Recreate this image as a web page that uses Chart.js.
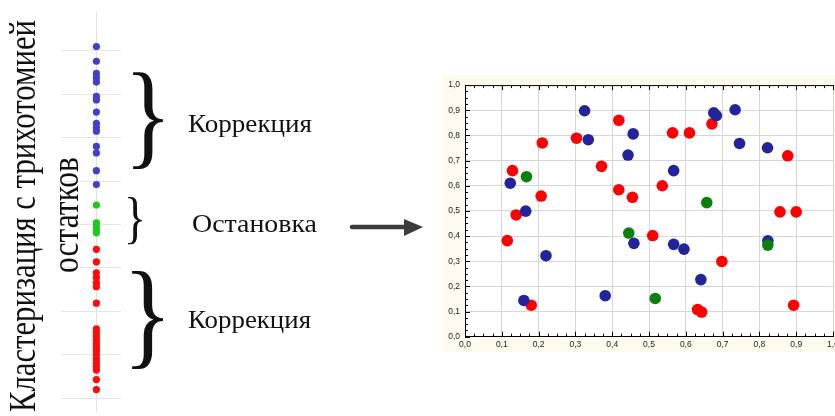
<!DOCTYPE html>
<html>
<head>
<meta charset="utf-8">
<script src="https://cdn.jsdelivr.net/npm/chart.js@4.4.1/dist/chart.umd.min.js"></script>
<style>
html, body { margin: 0; padding: 0; width: 835px; height: 416px; overflow: hidden; background: #fff; }
#stripWrap { position: absolute; left: 57px; top: 8px; width: 68px; height: 408px; }
#scatterWrap { position: absolute; left: 443px; top: 75px; width: 400px; height: 277px; background: #fffaf0; }
#notes { position: absolute; left: 0; top: 0; }
#notes text { font-family: 'Liberation Serif', 'DejaVu Serif', serif; fill: #111; }
</style>
</head>
<body>
<div id="stripWrap"><canvas id="strip"></canvas></div>
<div id="scatterWrap"><canvas id="scatter"></canvas></div>
<svg id="notes" width="835" height="416">
  <text transform="translate(35,216) rotate(-90)" text-anchor="middle" font-size="38" textLength="392" lengthAdjust="spacingAndGlyphs">Кластеризация с трихотомией</text>
  <text transform="translate(78,215) rotate(-90)" text-anchor="middle" font-size="38" textLength="116" lengthAdjust="spacingAndGlyphs">остатков</text>
  <text x="188" y="132" font-size="26" textLength="124" lengthAdjust="spacingAndGlyphs">Коррекция</text>
  <text x="192" y="232" font-size="26" textLength="125" lengthAdjust="spacingAndGlyphs">Остановка</text>
  <text x="188" y="328" font-size="26" textLength="123" lengthAdjust="spacingAndGlyphs">Коррекция</text>
  <g id="braces"></g>
  <line x1="352" y1="227" x2="408" y2="227" stroke="#3c3c3c" stroke-width="4.5" stroke-linecap="round"/>
  <polygon points="404,219 423,227 404,236" fill="#3c3c3c"/>
</svg>
<script>
// левая полоса: значения остатков по кластерам
const stripBlue = [8.10, 7.76, 7.48, 7.38, 7.28, 6.95, 6.87, 6.59, 6.33, 6.24, 6.15, 5.80, 5.65, 5.24, 4.92];
const stripGreen = [4.45, 4.04, 3.96, 3.88, 3.81];
const stripRed = [3.43, 3.14, 2.89, 2.78, 2.66, 2.57, 2.19, 1.60, 1.52, 1.43, 1.34, 1.26, 1.17, 1.09, 1.00, 0.91, 0.82, 0.74, 0.65, 0.43, 0.20];

// правая диаграмма рассеяния
const blueX = [0.325, 0.335, 0.457, 0.443, 0.567, 0.676, 0.683, 0.734, 0.746, 0.822, 0.123, 0.165, 0.220, 0.160, 0.381, 0.459, 0.567, 0.595, 0.641, 0.823];
const blueY = [0.898, 0.783, 0.806, 0.722, 0.660, 0.890, 0.879, 0.902, 0.768, 0.751, 0.610, 0.499, 0.322, 0.144, 0.163, 0.371, 0.367, 0.348, 0.227, 0.381];
const greenX = [0.167, 0.445, 0.657, 0.517, 0.823];
const greenY = [0.636, 0.412, 0.533, 0.152, 0.364];
const redX = [0.129, 0.210, 0.207, 0.139, 0.115, 0.180, 0.303, 0.371, 0.418, 0.418, 0.455, 0.536, 0.510, 0.564, 0.610, 0.671, 0.698, 0.877, 0.856, 0.900, 0.893, 0.632, 0.643];
const redY = [0.660, 0.770, 0.559, 0.484, 0.382, 0.125, 0.789, 0.677, 0.860, 0.584, 0.554, 0.600, 0.402, 0.810, 0.810, 0.846, 0.299, 0.719, 0.496, 0.496, 0.125, 0.108, 0.098];
const axisTicks = [0, 0.1, 0.2, 0.3, 0.4, 0.5, 0.6, 0.7, 0.8, 0.9, 1.0];

const toPoints = (xs, ys) => xs.map((x, i) => ({ x: x, y: ys[i] }));
const stripPoints = (vals) => vals.map(v => ({ x: 0, y: v }));

new Chart(document.getElementById('strip'), {
  type: 'scatter',
  data: {
    datasets: [
      { data: stripPoints(stripBlue), backgroundColor: '#4141c6', pointRadius: 3.6, borderWidth: 0 },
      { data: stripPoints(stripGreen), backgroundColor: '#1ccc1c', pointRadius: 3.6, borderWidth: 0 },
      { data: stripPoints(stripRed), backgroundColor: '#ff0a0a', pointRadius: 3.6, borderWidth: 0 }
    ]
  },
  options: {
    animation: false,
    responsive: true,
    maintainAspectRatio: false,
    events: [],
    layout: { padding: 0 },
    plugins: { legend: { display: false }, tooltip: { enabled: false } },
    scales: {
      x: {
        min: -1.18, max: 0.82,
        afterBuildTicks: s => { s.ticks = [{ value: 0 }]; },
        afterFit: s => { s.height = 0; },
        ticks: { display: false },
        border: { display: false },
        grid: { color: '#e2e2e2', drawTicks: false }
      },
      y: {
        min: -0.316, max: 8.894,
        afterBuildTicks: s => { s.ticks = [0, 1, 2, 3, 4, 5, 6, 7, 8].map(v => ({ value: v })); },
        afterFit: s => { s.width = 0; },
        ticks: { display: false },
        border: { display: false },
        grid: { color: '#e6e6e6', drawTicks: false }
      }
    }
  }
});

const plotFrame = {
  id: 'plotFrame',
  beforeDraw(chart) {
    const a = chart.chartArea, c = chart.ctx;
    c.save();
    c.fillStyle = '#ffffff';
    c.fillRect(a.left, a.top, a.right - a.left, a.bottom - a.top);
    c.restore();
  },
  afterDraw(chart) {
    const a = chart.chartArea, c = chart.ctx;
    const sx = chart.scales.x, sy = chart.scales.y;
    c.save();
    c.strokeStyle = '#000';
    c.lineWidth = 1;
    c.beginPath();
    c.moveTo(a.left, a.top + 0.5); c.lineTo(a.right, a.top + 0.5);
    for (let k = 0; k <= 40; k++) {
      const len = k % 4 === 0 ? 5 : 3;
      const px = Math.round(sx.getPixelForValue(k / 40)) + 0.5;
      c.moveTo(px, a.bottom); c.lineTo(px, a.bottom - len);
      c.moveTo(px, a.top); c.lineTo(px, a.top + len);
      const py = Math.round(sy.getPixelForValue(k / 40)) + 0.5;
      c.moveTo(a.left, py); c.lineTo(a.left + len, py);
    }
    c.stroke();
    c.restore();
  }
};

new Chart(document.getElementById('scatter'), {
  type: 'scatter',
  data: {
    datasets: [
      { data: toPoints(greenX, greenY), backgroundColor: '#0b800b', pointRadius: 5.8, borderWidth: 0 },
      { data: toPoints(blueX, blueY), backgroundColor: '#23239b', pointRadius: 5.8, borderWidth: 0 },
      { data: toPoints(redX, redY), backgroundColor: '#ff0000', pointRadius: 5.8, borderWidth: 0 }
    ]
  },
  options: {
    animation: false,
    responsive: true,
    maintainAspectRatio: false,
    events: [],
    layout: { padding: { top: 7.7, right: 10, left: 0, bottom: 0 } },
    plugins: { legend: { display: false }, tooltip: { enabled: false } },
    scales: {
      x: {
        min: 0, max: 1,
        afterBuildTicks: s => { s.ticks = axisTicks.map(v => ({ value: v })); },
        afterFit: s => { s.height = 15.3; },
        ticks: {
          padding: 3, maxRotation: 0, autoSkip: false,
          color: '#222', font: { family: 'Liberation Sans', size: 8.5 },
          callback: v => v.toFixed(1).replace('.', ',')
        },
        border: { display: true, color: '#000', width: 1 },
        grid: { color: '#d6d6d6', drawTicks: false }
      },
      y: {
        min: 0, max: 1,
        afterBuildTicks: s => { s.ticks = axisTicks.map(v => ({ value: v })); },
        afterFit: s => { s.width = 22; },
        ticks: {
          padding: 5, autoSkip: false,
          color: '#222', font: { family: 'Liberation Sans', size: 8.5 },
          callback: v => v.toFixed(1).replace('.', ',')
        },
        border: { display: true, color: '#000', width: 1 },
        grid: { color: '#d6d6d6', drawTicks: false }
      }
    }
  },
  plugins: [plotFrame]
});

// фигурные скобки: подгоняем глиф под нужную рамку
const braceBoxes = [
  { x: 133, y: 72, w: 30, h: 96 },
  { x: 128, y: 197, w: 14, h: 48 },
  { x: 132, y: 270, w: 31, h: 98 }
];
const mctx = document.createElement('canvas').getContext('2d');
mctx.font = "100px 'Liberation Serif'";
const m = mctx.measureText('}');
const inkX0 = -m.actualBoundingBoxLeft;
const inkW = m.actualBoundingBoxLeft + m.actualBoundingBoxRight;
const inkY0 = -m.actualBoundingBoxAscent;
const inkH = m.actualBoundingBoxAscent + m.actualBoundingBoxDescent;
const g = document.getElementById('braces');
braceBoxes.forEach(b => {
  const sx = b.w / inkW, sy = b.h / inkH;
  const t = document.createElementNS('http://www.w3.org/2000/svg', 'text');
  t.setAttribute('font-size', '100');
  t.setAttribute('transform', `translate(${b.x - inkX0 * sx},${b.y - inkY0 * sy}) scale(${sx},${sy})`);
  t.textContent = '}';
  g.appendChild(t);
});
</script>
</body>
</html>
